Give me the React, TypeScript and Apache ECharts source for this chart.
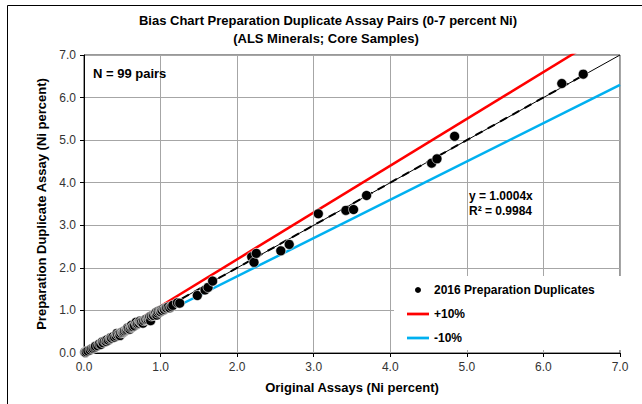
import React, { useEffect, useRef } from "react";
import * as echarts from "echarts";

const titleLines = [
  "Bias Chart Preparation Duplicate Assay Pairs (0-7 percent Ni)",
  "(ALS Minerals; Core Samples)",
];
const xAxisName = "Original Assays (Ni percent)";
const yAxisName = "Preparation Duplicate Assay (Ni percent)";
const seriesNames = ["2016 Preparation Duplicates", "+10%", "-10%"];
const pairsLabel = "N = 99 pairs";
const equationLines = ["y = 1.0004x", "R² = 0.9984"];
const trendSlope = 1.0004;
const axisMin = 0;
const axisMax = 7;
const axisStep = 1;

// Original assays (Ni %)
const originalNi = [
  0.01, 0.02, 0.03, 0.05, 0.08, 0.1, 0.12, 0.14, 0.15, 0.18,
  0.2, 0.22, 0.24, 0.25, 0.27, 0.29, 0.3, 0.32, 0.34, 0.35,
  0.36, 0.38, 0.4, 0.42, 0.43, 0.44, 0.46, 0.47, 0.48, 0.5,
  0.51, 0.52, 0.53, 0.55, 0.56, 0.57, 0.58, 0.6, 0.61, 0.62,
  0.63, 0.64, 0.66, 0.68, 0.69, 0.7, 0.72, 0.73, 0.74, 0.75,
  0.77, 0.78, 0.8, 0.81, 0.83, 0.84, 0.85, 0.86, 0.87, 0.88,
  0.9, 0.91, 0.93, 0.94, 0.95, 0.96, 0.97, 0.99, 1.0, 1.01,
  1.02, 1.04, 1.05, 1.07, 1.08, 1.1, 1.12, 1.14, 1.16, 1.22,
  1.25, 1.48, 1.58, 1.62, 1.68, 2.19, 2.22, 2.25, 2.57, 2.68,
  3.06, 3.42, 3.52, 3.69, 4.54, 4.61, 4.84, 6.24, 6.52,
];
// Preparation duplicate assays (Ni %)
const duplicateNi = [
  0.02, 0.01, 0.03, 0.05, 0.07, 0.1, 0.11, 0.13, 0.16, 0.17,
  0.21, 0.2, 0.26, 0.24, 0.28, 0.27, 0.31, 0.3, 0.33, 0.36,
  0.35, 0.38, 0.37, 0.4, 0.46, 0.43, 0.45, 0.41, 0.47, 0.49,
  0.48, 0.5, 0.52, 0.53, 0.55, 0.59, 0.57, 0.56, 0.6, 0.65,
  0.61, 0.62, 0.64, 0.72, 0.67, 0.69, 0.7, 0.75, 0.73, 0.72,
  0.7, 0.76, 0.78, 0.79, 0.8, 0.78, 0.82, 0.85, 0.76, 0.87,
  0.89, 0.88, 0.92, 0.95, 0.89, 0.94, 0.98, 0.99, 0.97, 1.01,
  1.0, 1.04, 1.02, 1.05, 1.06, 1.08, 1.06, 1.09, 1.12, 1.18,
  1.17, 1.35, 1.48, 1.54, 1.69, 2.26, 2.13, 2.34, 2.4, 2.55,
  3.27, 3.35, 3.37, 3.7, 4.46, 4.56, 5.09, 6.33, 6.55,
];

const FONT = "'Liberation Sans', Arial, sans-serif";

export default function App() {
  const ref = useRef<HTMLDivElement>(null);
  useEffect(() => {
    document.body.style.margin = "0";
    if (!ref.current) return;
    const chart = echarts.init(ref.current, undefined, { renderer: "svg" });
    const points = originalNi.map((x, i) => [x, duplicateNi[i]]);
    const lastX = Math.max(...originalNi);
    const boldText = (text: string, x: number, y: number, size: number, align = "left") => ({
      type: "text",
      x,
      y,
      z: 10,
      style: {
        text,
        fontFamily: FONT,
        fontSize: size,
        fontWeight: "bold",
        fill: "#000",
        align,
        verticalAlign: "middle",
      },
    });
    chart.setOption({
      animation: false,
      backgroundColor: "#fff",
      textStyle: { fontFamily: FONT },
      grid: {
        left: 84,
        right: 22,
        top: 55,
        bottom: 51,
        show: true,
        borderColor: "#333",
        borderWidth: 1,
        backgroundColor: "transparent",
      },
      xAxis: {
        type: "value",
        min: axisMin,
        max: axisMax,
        interval: axisStep,
        name: xAxisName,
        nameLocation: "middle",
        nameGap: 28,
        nameTextStyle: { fontFamily: FONT, fontSize: 13, fontWeight: "bold", color: "#000" },
        axisLine: { show: true, onZero: false, lineStyle: { color: "#000", width: 1 } },
        axisTick: { show: true, inside: false, length: 4, lineStyle: { color: "#000" } },
        axisLabel: {
          fontFamily: FONT,
          fontSize: 12,
          color: "#333",
          margin: 8,
          formatter: (v: number) => v.toFixed(1),
        },
        splitLine: { show: true, lineStyle: { color: "#a6a6a6", width: 1 } },
      },
      yAxis: {
        type: "value",
        min: axisMin,
        max: axisMax,
        interval: axisStep,
        name: yAxisName,
        nameLocation: "middle",
        nameGap: 35,
        nameTextStyle: { fontFamily: FONT, fontSize: 13, fontWeight: "bold", color: "#000" },
        axisLine: { show: true, onZero: false, lineStyle: { color: "#000", width: 1 } },
        axisTick: { show: true, inside: false, length: 4, lineStyle: { color: "#000" } },
        axisLabel: {
          fontFamily: FONT,
          fontSize: 12,
          color: "#333",
          margin: 8,
          formatter: (v: number) => v.toFixed(1),
        },
        splitLine: { show: true, lineStyle: { color: "#a6a6a6", width: 1 } },
      },
      legend: {
        orient: "vertical",
        left: 394,
        top: 276,
        width: 222,
        padding: [8, 100, 6, 13],
        backgroundColor: "#fff",
        itemWidth: 22,
        itemHeight: 6,
        itemGap: 12,
        textStyle: { fontFamily: FONT, fontSize: 12, fontWeight: "bold", color: "#000" },
        data: [
          { name: seriesNames[0], icon: "circle", itemStyle: { color: "#000", borderWidth: 0 } },
          { name: seriesNames[1], icon: "path://M0,0L24,0L24,3L0,3Z" },
          { name: seriesNames[2], icon: "path://M0,0L24,0L24,3L0,3Z" },
        ],
      },
      graphic: [
        {
          type: "rect",
          silent: true,
          shape: { x: 7.5, y: 5.5, width: 645, height: 420 },
          style: { fill: "none", stroke: "#000", lineWidth: 1 },
          z: 100,
        },
        boldText(titleLines[0], 328, 20, 13, "center"),
        boldText(titleLines[1], 326, 38, 13, "center"),
        boldText(pairsLabel, 93, 73, 13),
        boldText(equationLines[0], 469, 196, 12),
        boldText(equationLines[1], 469, 211, 12),
      ],
      series: [
        {
          name: seriesNames[1],
          type: "line",
          data: [[axisMin, axisMin], [axisMax, axisMax * 1.1]],
          showSymbol: false,
          symbol: "none",
          clip: true,
          lineStyle: { color: "#ff0000", width: 2.5 },
          itemStyle: { color: "#ff0000" },
          z: 2,
        },
        {
          name: seriesNames[2],
          type: "line",
          data: [[axisMin, axisMin], [axisMax, axisMax * 0.9]],
          showSymbol: false,
          symbol: "none",
          clip: true,
          lineStyle: { color: "#00b0f0", width: 2.5 },
          itemStyle: { color: "#00b0f0" },
          z: 2,
        },
        {
          name: "1:1",
          type: "line",
          data: [[axisMin, axisMin], [axisMax, axisMax]],
          showSymbol: false,
          symbol: "none",
          lineStyle: { color: "#000", width: 1 },
          z: 3,
        },
        {
          name: "trend",
          type: "line",
          data: [[axisMin, axisMin], [lastX, lastX * trendSlope]],
          showSymbol: false,
          symbol: "none",
          lineStyle: { color: "#000", width: 2, type: [8, 6] },
          z: 3,
        },
        {
          name: seriesNames[0],
          type: "scatter",
          data: points,
          symbol: "circle",
          symbolSize: 10,
          itemStyle: { color: "#000", borderColor: "#fff", borderWidth: 0.6, opacity: 1 },
          z: 5,
        },
      ],
    });
    return () => chart.dispose();
  }, []);
  return <div ref={ref} style={{ width: 642, height: 404 }} />;
}
